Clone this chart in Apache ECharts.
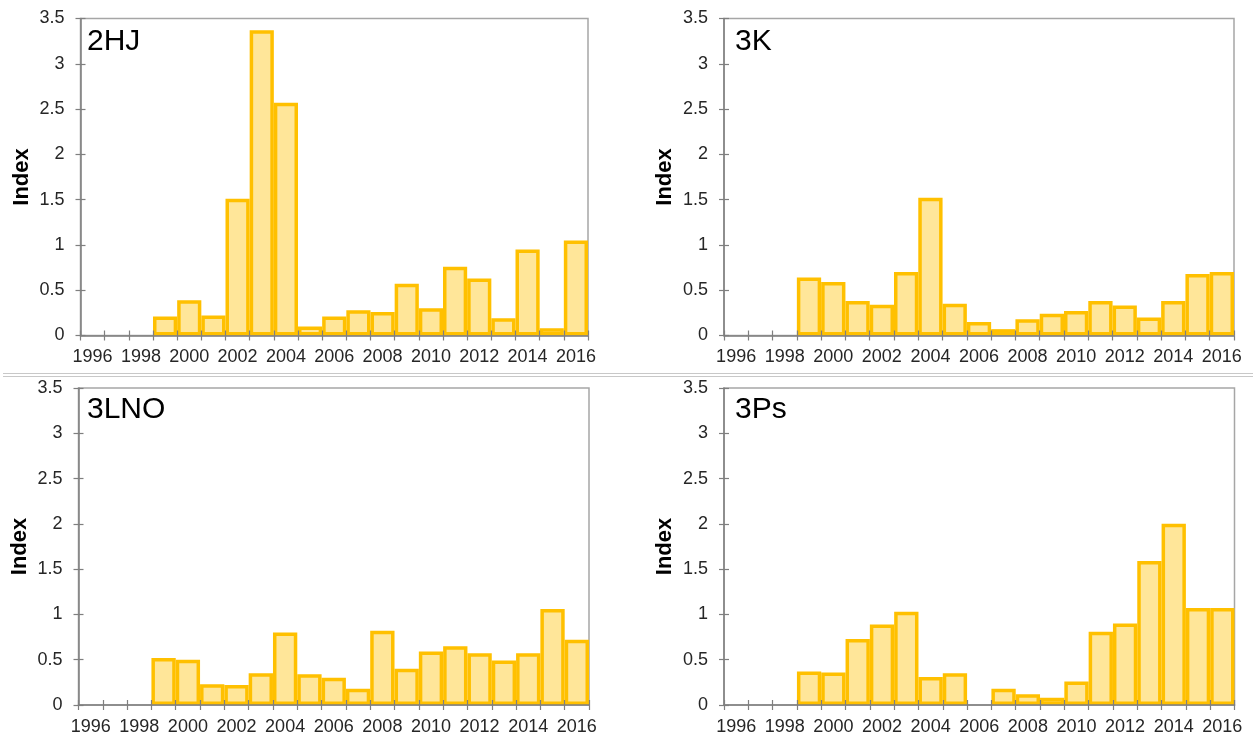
<!DOCTYPE html>
<html>
<head>
<meta charset="utf-8">
<script src="https://cdn.jsdelivr.net/npm/echarts@6/dist/echarts.min.js"></script>
<style>
  html, body { margin: 0; padding: 0; background: #ffffff; }
  #chart { width: 1253px; height: 738px; }
</style>
</head>
<body>
<div id="chart"></div>
<script>
// Survey years on the category axis (one bar per year)
const years = ['1996', '1997', '1998', '1999', '2000', '2001', '2002', '2003', '2004', '2005',
               '2006', '2007', '2008', '2009', '2010', '2011', '2012', '2013', '2014', '2015', '2016'];

// Index values per division, 1996–2016 (null = no survey value)
const index2HJ  = [null, null, null, 0.21, 0.39, 0.22, 1.51, 3.37, 2.57, 0.10, 0.21, 0.28, 0.26, 0.57, 0.30, 0.76, 0.63, 0.19, 0.95, 0.08, 1.05];
const index3K   = [null, null, null, 0.64, 0.59, 0.38, 0.34, 0.70, 1.52, 0.35, 0.15, 0.07, 0.18, 0.24, 0.27, 0.38, 0.33, 0.20, 0.38, 0.68, 0.70];
const index3LNO = [null, null, null, 0.52, 0.50, 0.23, 0.22, 0.35, 0.80, 0.34, 0.30, 0.18, 0.82, 0.40, 0.59, 0.65, 0.57, 0.49, 0.57, 1.06, 0.72];
const index3Ps  = [null, null, null, 0.37, 0.36, 0.73, 0.89, 1.03, 0.31, 0.35, null, 0.18, 0.12, 0.08, 0.26, 0.81, 0.90, 1.59, 2.00, 1.07, 1.07];

// Panel names and the value scale shared by all four panels
const divisions = ['2HJ', '3K', '3LNO', '3Ps'];
const seriesValues = [index2HJ, index3K, index3LNO, index3Ps];
const yMin = 0, yMax = 3.5, yStep = 0.5;
const yAxisTitle = 'Index';

// Pixel placement of each panel's plotting area and its title
const panels = [
  { left: 80.5, top: 18.5, width: 507.5, height: 317, tx: 87,  ty: 27 },
  { left: 724,  top: 18.5, width: 510,   height: 317, tx: 735, ty: 27 },
  { left: 78.5, top: 388,  width: 510.5, height: 317, tx: 87,  ty: 395 },
  { left: 724,  top: 388,  width: 510.5, height: 317, tx: 735, ty: 395 }
];

const FONT = 'Liberation Sans, Arial, sans-serif';
const AXIS_COLOR = '#7f7f7f';
const TEXT_COLOR = '#262626';

const grid = [], xAxis = [], yAxis = [], series = [], title = [];

panels.forEach((p, i) => {
  grid.push({
    left: p.left, top: p.top, width: p.width, height: p.height,
    show: true, borderColor: '#a6a6a6', borderWidth: 1.5, backgroundColor: 'transparent'
  });

  // outer ticks + labels
  xAxis.push({
    gridIndex: i, type: 'category', data: years, position: 'bottom', boundaryGap: true, z: 10,
    axisLine: { show: true, lineStyle: { color: AXIS_COLOR, width: 1.5 } },
    axisTick: { show: true, interval: 0, length: 5, inside: false, lineStyle: { color: AXIS_COLOR, width: 1.2 } },
    axisLabel: { interval: 1, margin: 13, fontSize: 18, color: TEXT_COLOR, fontFamily: FONT },
    splitLine: { show: false }
  });
  // inner half of the crossing ticks
  xAxis.push({
    gridIndex: i, type: 'category', data: years, position: 'bottom', boundaryGap: true, z: 10,
    axisLine: { show: false },
    axisTick: { show: true, interval: 0, length: 5, inside: true, lineStyle: { color: AXIS_COLOR, width: 1.2 } },
    axisLabel: { show: false },
    splitLine: { show: false }
  });

  yAxis.push({
    gridIndex: i, type: 'value', min: yMin, max: yMax, interval: yStep, position: 'left', z: 10,
    name: yAxisTitle, nameLocation: 'middle', nameGap: 48,
    nameTextStyle: { fontSize: 22, fontWeight: 'bold', color: '#000000', fontFamily: FONT },
    axisLine: { show: true, lineStyle: { color: AXIS_COLOR, width: 1.5 } },
    axisTick: { show: true, length: 5, inside: false, lineStyle: { color: AXIS_COLOR, width: 1.2 } },
    axisLabel: { margin: 16, fontSize: 18, color: TEXT_COLOR, fontFamily: FONT },
    splitLine: { show: false }
  });
  yAxis.push({
    gridIndex: i, type: 'value', min: yMin, max: yMax, interval: yStep, position: 'left', z: 10,
    axisLine: { show: false },
    axisTick: { show: true, length: 5, inside: true, lineStyle: { color: AXIS_COLOR, width: 1.2 } },
    axisLabel: { show: false },
    splitLine: { show: false }
  });

  series.push({
    type: 'bar', name: divisions[i], data: seriesValues[i],
    xAxisIndex: 2 * i, yAxisIndex: 2 * i,
    barCategoryGap: '0%', barGap: '0%',
    itemStyle: { color: '#FFE699', borderColor: '#FFC000', borderWidth: 3.5 },
    emphasis: { disabled: true },
    z: 2
  });

  title.push({
    text: divisions[i], left: p.tx, top: p.ty, padding: 0,
    textStyle: { fontSize: 30, fontWeight: 'normal', color: '#000000', fontFamily: FONT }
  });
});

const chart = echarts.init(document.getElementById('chart'), null, { renderer: 'canvas' });
chart.setOption({
  animation: false,
  backgroundColor: '#ffffff',
  title, grid, xAxis, yAxis, series,
  graphic: [
    // double rule separating the upper and lower rows of panels
    { type: 'line', shape: { x1: 3, y1: 373.5, x2: 1253, y2: 373.5 }, style: { stroke: '#c8c8c8', lineWidth: 1.2 }, silent: true },
    { type: 'line', shape: { x1: 3, y1: 376.5, x2: 1253, y2: 376.5 }, style: { stroke: '#c8c8c8', lineWidth: 1.2 }, silent: true }
  ]
});
</script>
</body>
</html>
